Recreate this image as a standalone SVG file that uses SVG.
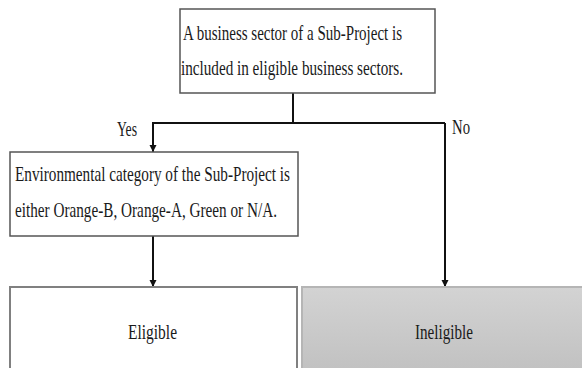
<svg xmlns="http://www.w3.org/2000/svg" width="582" height="368" viewBox="0 0 582 368">
  <style>
    .t { font-family: "Liberation Serif", "Times New Roman", serif; font-size: 21px; fill: #1a1a1a; }
    .box { fill: #ffffff; stroke: #555555; stroke-width: 1.5; }
    .conn { fill: none; stroke: #111111; stroke-width: 2; }
  </style>
  <defs>
    <marker id="arrow" viewBox="0 0 10 10" refX="10" refY="5" markerWidth="7" markerHeight="12" markerUnits="userSpaceOnUse" orient="auto">
      <path d="M0,0 L10,5 L0,10 Z" fill="#111111"/>
    </marker>
    <linearGradient id="grey" x1="0" y1="0" x2="0" y2="1">
      <stop offset="0" stop-color="#d3d3d3"/>
      <stop offset="1" stop-color="#c0c0c0"/>
    </linearGradient>
  </defs>

  <g id="connectors">
    <path class="conn" d="M293,93 V123"/>
    <path class="conn" d="M153,152 V123 H445"/>
    <path class="conn" d="M153,123 V152" marker-end="url(#arrow)"/>
    <path class="conn" d="M445,123 V287" stroke="#333333" stroke-width="1.6" marker-end="url(#arrow)"/>
    <path class="conn" d="M153,236 V287" marker-end="url(#arrow)"/>
    <text class="t" x="117" y="136" textLength="20" lengthAdjust="spacingAndGlyphs">Yes</text>
    <text class="t" x="452" y="134" textLength="18" lengthAdjust="spacingAndGlyphs">No</text>
  </g>

  <g id="node-sector">
    <rect class="box" x="180" y="9" width="255" height="84"/>
    <text class="t" x="183" y="40" textLength="219" lengthAdjust="spacingAndGlyphs">A business sector of a Sub-Project is</text>
    <text class="t" x="181" y="75" textLength="222" lengthAdjust="spacingAndGlyphs">included in eligible business sectors.</text>
  </g>

  <g id="node-category">
    <rect class="box" x="10" y="152" width="288" height="84"/>
    <text class="t" x="15" y="181" textLength="275" lengthAdjust="spacingAndGlyphs">Environmental category of the Sub-Project is</text>
    <text class="t" x="15" y="217" textLength="262" lengthAdjust="spacingAndGlyphs">either Orange-B, Orange-A, Green or N/A.</text>
  </g>

  <g id="node-eligible">
    <rect x="10" y="287" width="287" height="90" fill="#ffffff" stroke="#808080" stroke-width="2"/>
    <text class="t" x="128" y="339" textLength="49" lengthAdjust="spacingAndGlyphs" style="font-size:22px">Eligible</text>
  </g>

  <g id="node-ineligible">
    <rect x="302" y="287" width="290" height="90" fill="url(#grey)" stroke="#b5b5b5" stroke-width="2"/>
    <text class="t" x="415" y="339" textLength="58" lengthAdjust="spacingAndGlyphs" style="font-size:22px">Ineligible</text>
  </g>
</svg>
